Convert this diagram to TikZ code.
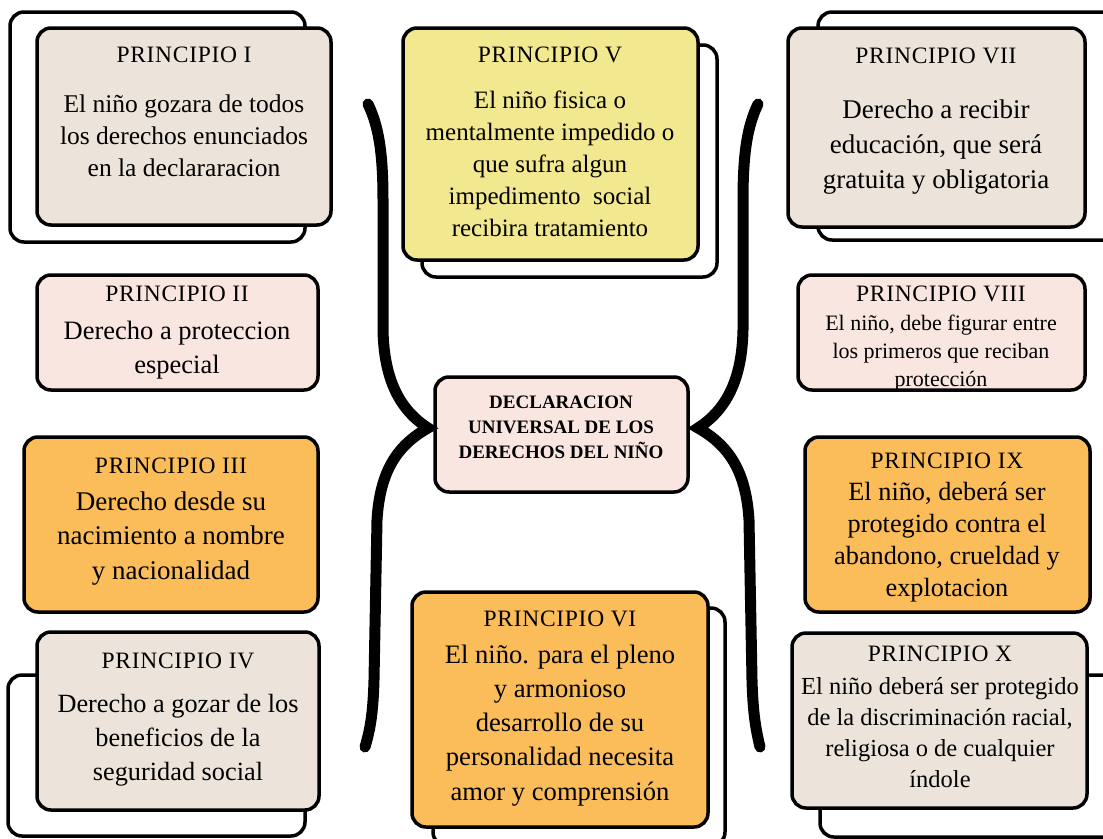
\documentclass[tikz,border=0pt]{standalone}
\usepackage{fontspec}
\setmainfont{Liberation Serif}
\newfontfamily\ttlfont[LetterSpace=3]{Liberation Serif}
\usetikzlibrary{fit}
\definecolor{beigebox}{RGB}{236,228,218}
\definecolor{pinkbox}{RGB}{250,230,225}
\definecolor{orangebox}{RGB}{251,189,90}
\definecolor{yellowbox}{RGB}{242,232,143}
\newcommand{\ttl}[1]{{\ttlfont\fontsize{23.5}{27}\selectfont #1}}
\tikzset{
  card/.style={draw, line width=3.5pt, rounded corners=14pt, inner sep=0pt},
  backcard/.style={card, fill=white},
  txt/.style={align=center, anchor=north, inner sep=0pt},
  brace/.style={line width=11pt, line cap=round},
}

\begin{document}
\begin{tikzpicture}[x=1pt, y=-1pt]
\useasboundingbox (0,0) rectangle (1103,838);

% cartas de atras
\node[backcard, fit={(10,12) (305,242)}] (p1b) {};
\node[backcard, fit={(8,675) (305,836)}] (p4b) {};
\node[backcard, fit={(422,45) (717,277)}] (p5b) {};
\node[backcard, fit={(433,608) (725,846)}] (p6b) {};
\node[backcard, fit={(818,12) (1120,240)}] (p7b) {};
\node[backcard, fit={(820,675) (1120,837)}] (p10b) {};

% cartas
\node[card, fill=beigebox, fit={(37,28) (331,225)}] (p1) {};
\node[card, fill=pinkbox, fit={(37,275) (318,390)}] (p2) {};
\node[card, fill=orangebox, fit={(24,437) (318,612)}] (p3) {};
\node[card, fill=beigebox, fit={(37,632) (319,810)}] (p4) {};
\node[card, fill=yellowbox, fit={(403,28) (698,260)}] (p5) {};
\node[card, fill=pinkbox, fit={(435,377) (688,492)}] (decl) {};
\node[card, fill=orangebox, fit={(412,592) (708,827)}] (p6) {};
\node[card, fill=beigebox, fit={(788,28) (1085,227)}] (p7) {};
\node[card, fill=pinkbox, fit={(798,275) (1085,390)}] (p8) {};
\node[card, fill=orangebox, fit={(805,437) (1090,612)}] (p9) {};
\node[card, fill=beigebox, fit={(792,633) (1087,808)}] (p10) {};

% textos
\node[txt, font=\fontsize{25.5}{32}\selectfont] (p1t) at (184,47) {\ttl{PRINCIPIO I}\\[18pt] El niño gozara de todos\\ los derechos enunciados\\ en la declararacion};
\node[txt, font=\fontsize{26.5}{34}\selectfont] (p2t) at (177,286) {\ttl{PRINCIPIO II}\\[4pt] Derecho a proteccion\\ especial};
\node[txt, font=\fontsize{27}{34.5}\selectfont] (p3t) at (171,458) {\ttl{PRINCIPIO III}\\[2pt] Derecho desde su\\ nacimiento a nombre\\ y nacionalidad};
\node[txt, font=\fontsize{26.3}{34}\selectfont] (p4t) at (178,653) {\ttl{PRINCIPIO IV}\\[10pt] Derecho a gozar de los\\ beneficios de la\\ seguridad social};
\node[txt, font=\fontsize{25}{32}\selectfont] (p5t) at (550,47) {\ttl{PRINCIPIO V}\\[14pt] El niño fisica o\\ mentalmente impedido o\\ que sufra algun\\ impedimento\ \ social\\ recibira tratamiento};
\node[txt, font=\fontsize{19}{25}\selectfont\bfseries] (declt) at (561,395.5) {DECLARACION\\ UNIVERSAL DE LOS\\ DERECHOS DEL NIÑO};
\node[txt, font=\fontsize{26.6}{34.3}\selectfont] (p6t) at (560,611) {\ttl{PRINCIPIO VI}\\[2pt] El niño. para el pleno\\ y armonioso\\ desarrollo de su\\ personalidad necesita\\ amor y comprensión};
\node[txt, font=\fontsize{27}{35}\selectfont] (p7t) at (936,48) {\ttl{PRINCIPIO VII}\\[20pt] Derecho a recibir\\ educación, que será\\ gratuita y obligatoria};
\node[txt, font=\fontsize{22}{28}\selectfont] (p8t) at (941,286) {\ttl{PRINCIPIO VIII}\\[1pt] El niño, debe figurar entre\\ los primeros que reciban\\ protección};
\node[txt, font=\fontsize{26.3}{32}\selectfont] (p9t) at (947,453) {\ttl{PRINCIPIO IX}\\ El niño, deberá ser\\ protegido contra el\\ abandono, crueldad y\\ explotacion};
\node[txt, font=\fontsize{24.5}{31}\selectfont] (p10t) at (940,646) {\ttl{PRINCIPIO X}\\[2pt] El niño deberá ser protegido\\ de la discriminación racial,\\ religiosa o de cualquier\\ índole};

% llaves
\draw[brace] (368,104) .. controls (378,125) and (383,150) .. (383,200) -- (383,330)
  .. controls (384,380) and (400,410) .. (428,428)
  .. controls (398,445) and (380,470) .. (377,520) -- (374,680)
  .. controls (373,715) and (370,730) .. (365,747);
\draw[brace] (758,104) .. controls (748,125) and (743,150) .. (743,200) -- (743,330)
  .. controls (742,380) and (726,410) .. (698,428)
  .. controls (728,445) and (746,470) .. (749,520) -- (752,680)
  .. controls (753,715) and (756,730) .. (760,747);
\end{tikzpicture}
\end{document}
